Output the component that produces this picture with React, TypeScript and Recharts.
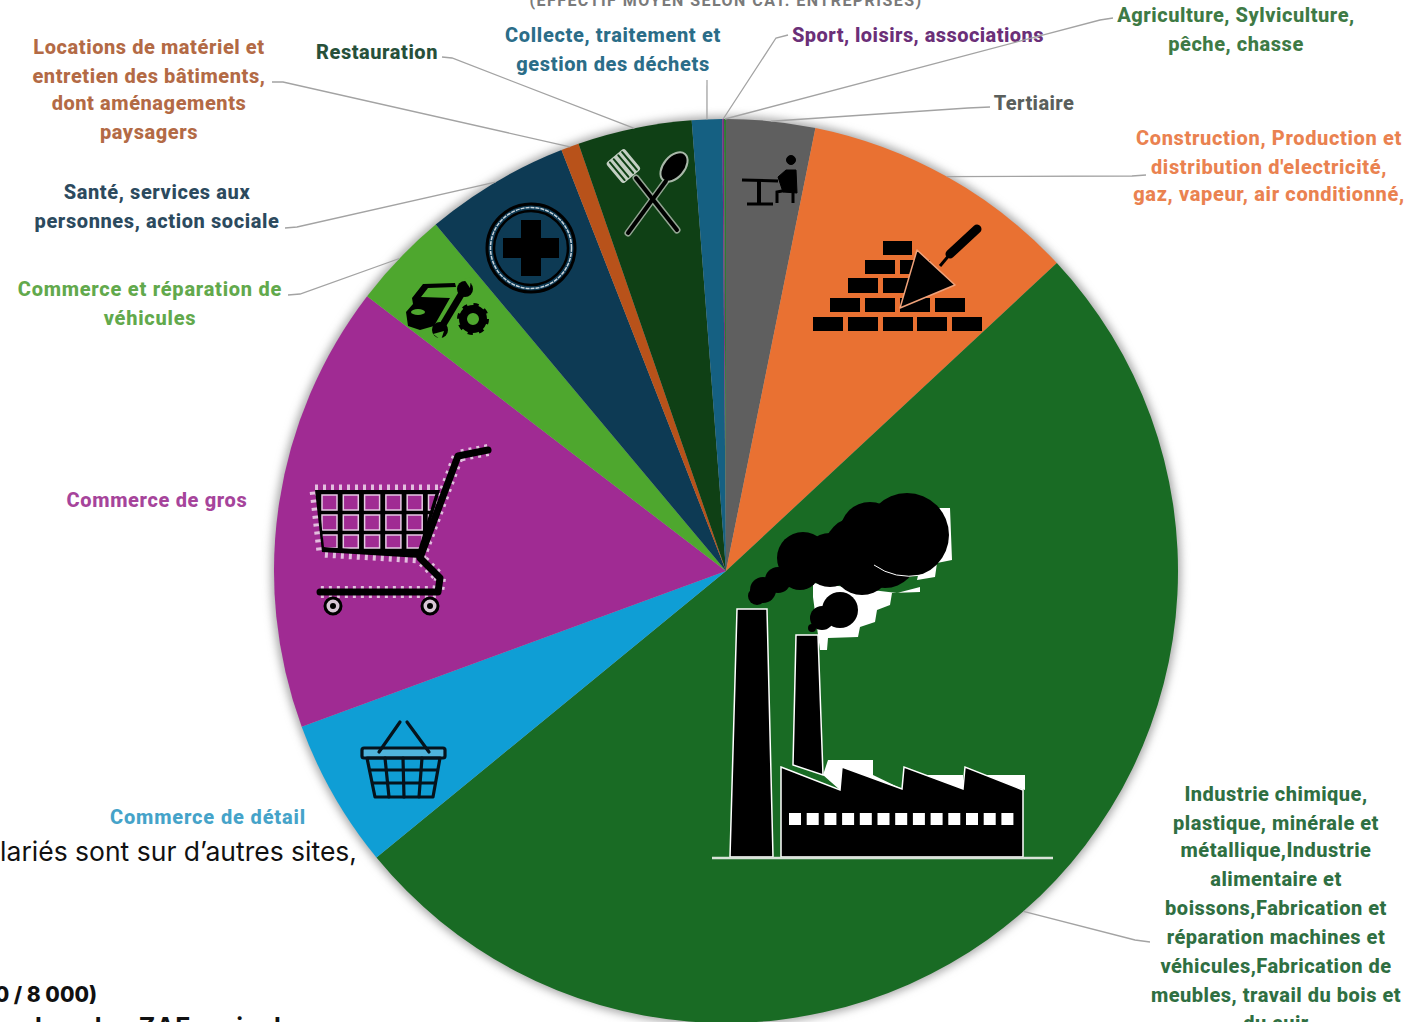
import { Pie, PieChart } from "recharts";

const sectors = [
  "Tertiaire",
  "Construction, Production et distribution d'electricité, gaz, vapeur, air conditionné,",
  "Industrie chimique, plastique, minérale et métallique,Industrie alimentaire et boissons,Fabrication et réparation machines et véhicules,Fabrication de meubles, travail du bois et du cuir",
  "Commerce de détail",
  "Commerce de gros",
  "Commerce et réparation de véhicules",
  "Santé, services aux personnes, action sociale",
  "Locations de matériel et entretien des bâtiments, dont aménagements paysagers",
  "Restauration",
  "Collecte, traitement et gestion des déchets",
  "Sport, loisirs, associations",
  "Agriculture, Sylviculture, pêche, chasse",
];
const shares = [3.17, 9.9, 51, 5.33, 16, 3.5, 5.17, 0.64, 4.08, 1.08, 0.06, 0.07];
const sliceColors = [
  "#5f5f5f", "#e97132", "#196b24", "#0f9ed5", "#a02b93", "#4ea72e",
  "#0d3a54", "#b8521a", "#0f4015", "#156082", "#7a2a80", "#2f7d32",
];
const textColors = [
  "#5a5f5c", "#ea8250", "#2f6f42", "#45a3c9", "#a6449b", "#62a94c",
  "#2c4a5e", "#b36a45", "#27503a", "#2b6d88", "#6b2f78", "#3e7a45",
];
const labelLines = [
  ["Tertiaire"],
  ["Construction, Production et", "distribution d'electricité,", "gaz, vapeur, air conditionné,"],
  ["Industrie chimique,", "plastique, minérale et", "métallique,Industrie", "alimentaire et", "boissons,Fabrication et", "réparation machines et", "véhicules,Fabrication de", "meubles, travail du bois et", "du cuir"],
  ["Commerce de détail"],
  ["Commerce de gros"],
  ["Commerce et réparation de", "véhicules"],
  ["Santé, services aux", "personnes, action sociale"],
  ["Locations de matériel et", "entretien des bâtiments,", "dont aménagements", "paysagers"],
  ["Restauration"],
  ["Collecte, traitement et", "gestion des déchets"],
  ["Sport, loisirs, associations"],
  ["Agriculture, Sylviculture,", "pêche, chasse"],
];

const tableData = sectors.map((name, i) => ({ name, value: shares[i], fill: sliceColors[i] }));
const outline = [{ name: "ombre", value: 100 }];

// label placement: centre x, y of each line, letter spacing
const labelBoxes = [
  { x: 1034, ys: [103], track: 0.4 },
  { x: 1269, ys: [138, 167, 194], track: 0.65 },
  { x: 1276, ys: [794, 823, 850, 879, 908, 937, 966, 995, 1023], track: 0.5 },
  { x: 208, ys: [817], track: 0.85 },
  { x: 157, ys: [500], track: 0.65 },
  { x: 150, ys: [289, 318], track: 0.75 },
  { x: 157, ys: [192, 221], track: 0.6 },
  { x: 149, ys: [47, 76, 103, 132], track: 0.57 },
  { x: 377, ys: [52], track: 0.55 },
  { x: 613, ys: [35, 64], track: 0.65 },
  { x: 918, ys: [35], track: 0.45 },
  { x: 1236, ys: [15, 44], track: 0.55 },
];
// leader line: points from the elbow out to the label end, null when there is none
const leaderEnds: (number[][] | null)[] = [
  [[968, 108], [990, 107]],
  [[1132, 176], [1146, 175]],
  [[1135, 940], [1150, 942]],
  null,
  null,
  [[300, 294], [288, 295]],
  [[297, 227], [285, 228]],
  [[283, 82], [272, 82]],
  [[452, 58], [442, 57]],
  [[707, 80]],
  [[776, 38], [788, 35]],
  [[1100, 20], [1113, 18]],
];

const RADIAN = Math.PI / 180;
const FONT = "Roboto, 'Noto Sans', sans-serif";

function SectorLabel(props: any) {
  const { cx, cy, midAngle, outerRadius, index } = props;
  const box = labelBoxes[index];
  const ends = leaderEnds[index];
  const sx = cx + outerRadius * Math.cos(-midAngle * RADIAN);
  const sy = cy + outerRadius * Math.sin(-midAngle * RADIAN);
  return (
    <g>
      {ends && (
        <polyline
          points={[[sx, sy], ...ends].map((p) => p.join(",")).join(" ")}
          fill="none"
          stroke="#a3a3a3"
          strokeWidth={1.3}
        />
      )}
      {labelLines[index].map((line, j) => (
        <text
          key={line}
          x={box.x}
          y={box.ys[j]}
          textAnchor="middle"
          dominantBaseline="central"
          fontFamily={FONT}
          fontWeight={800}
          fontSize={20}
          letterSpacing={box.track}
          fill={textColors[index]}
        >
          {line}
        </text>
      ))}
    </g>
  );
}

function Factory() {
  return (
    <g>
      <g fill="#fff">
        <polygon points="813,597 813,583 897,593 920,587 920,592 892,593 890,605 877,610 875,622 860,627 858,637 828,638 827,650 820,650 818,635" />
        <polygon points="933,508 950,508 952,560 937,563 935,577 917,580" />
        <polygon points="828,760 873,760 873,775 902,789 840,790 823,775" />
        <polygon points="913,775 963,775 963,789" />
        <polygon points="977,775 1025,775 1025,790" />
      </g>
      <g fill="#000" stroke="#fff" strokeWidth={1.5}>
        <polygon points="737,609 767,609 773,857 730,857" />
        <polygon points="796,635 818,635 823,775 793,765" />
        <polygon points="781,767 840,790 842,767 902,789 904,767 963,789 965,767 1023,790 1023,857 781,857" />
      </g>
      <g fill="#000">
        <circle cx={907} cy={535} r={42} />
        <circle cx={870} cy={532} r={30} />
        <circle cx={857} cy={550} r={33} />
        <circle cx={862} cy={565} r={30} />
        <circle cx={885} cy={555} r={33} />
        <circle cx={803} cy={558} r={26} />
        <circle cx={830} cy={560} r={27} />
        <circle cx={800} cy={570} r={20} />
        <circle cx={763} cy={590} r={13} />
        <circle cx={757} cy={596} r={9} />
        <circle cx={778} cy={580} r={13} />
        <circle cx={840} cy={610} r={18} />
        <circle cx={822} cy={618} r={12} />
        <circle cx={812} cy={628} r={4} />
      </g>
      <path d="M874 565 Q895 580 922 575" fill="none" stroke="#fff" strokeWidth={1} />
      {Array.from({ length: 13 }, (_, i) => (
        <rect key={i} x={789 + i * 17.7} y={813} width={12} height={12} fill="#fff" />
      ))}
      <line x1={712} y1={858} x2={1053} y2={858} stroke="#d9e3d9" strokeWidth={2.5} />
    </g>
  );
}

function Cart() {
  const cells: React.ReactElement[] = [];
  const rowY = [495, 515, 535];
  const rowH = [15, 15, 13];
  rowY.forEach((y, r) => {
    for (let c = 0; c < 6; c++) {
      cells.push(
        <rect key={`${r}-${c}`} x={322 + c * 21.3} y={y} width={15} height={rowH[r]} fill="#a02b93" stroke="#e6c9e3" strokeWidth={1.5} />,
      );
    }
  });
  return (
    <g>
      <polygon
        points="315,490 440,490 420,558 322,552"
        fill="none"
        stroke="#e3bfdf"
        strokeWidth={11}
        strokeDasharray="3 5"
      />
      <polyline points="488,450 458,456 420,558 440,578 438,592 320,592" fill="none" stroke="#e3bfdf" strokeWidth={12} strokeDasharray="3 5" />
      <clipPath id="cartBasket">
        <polygon points="318,492 436,492 417,554 324,547" />
      </clipPath>
      <polygon points="315,490 440,490 420,558 322,552" fill="#000" />
      <g clipPath="url(#cartBasket)">{cells}</g>
      <polyline points="488,450 458,456 420,558 440,578 438,592 320,592" fill="none" stroke="#000" strokeWidth={7} strokeLinecap="round" strokeLinejoin="round" />
      {[333, 430].map((x) => (
        <g key={x}>
          <circle cx={x} cy={606} r={8} fill="#d8c7d6" stroke="#000" strokeWidth={3} />
          <circle cx={x} cy={606} r={3} fill="#000" />
        </g>
      ))}
    </g>
  );
}

function Basket() {
  return (
    <g fill="none" stroke="#05131c" strokeWidth={3.2} strokeLinecap="round" strokeLinejoin="round">
      <rect x={362} y={748} width={83} height={10} rx={2} fill="#4fb4dc" />
      <line x1={379} y1={752} x2={400} y2={722} />
      <line x1={407} y1={722} x2={429} y2={752} />
      <polygon points="367,758 375,797 433,797 440,758" />
      <line x1={370} y1={770} x2={437} y2={770} />
      <line x1={373} y1={783} x2={435} y2={783} />
      <line x1={385} y1={758} x2={389} y2={797} />
      <line x1={403} y1={758} x2={404} y2={797} />
      <line x1={422} y1={758} x2={419} y2={797} />
    </g>
  );
}

function Garage() {
  return (
    <g>
      <path d="M412 298 L423 284 L455 283 L456 287 L428 288 L421 297 L450 298 L434 326 L420 330 L408 326 L406 312 L413 304 Z" fill="#000" />
      <ellipse cx={418} cy={312} rx={7} ry={3} fill="#4ea72e" />
      <line x1={465} y1={288} x2={441} y2={328} stroke="#4ea72e" strokeWidth={9} />
      <line x1={465} y1={288} x2={441} y2={328} stroke="#000" strokeWidth={7} />
      <circle cx={465} cy={289} r={8} fill="#000" />
      <circle cx={440} cy={330} r={8} fill="#000" />
      <polygon points="464,279 471,277 470,288" fill="#4ea72e" />
      <polygon points="433,334 441,340 444,331" fill="#4ea72e" />
      <circle cx={473} cy={319} r={10} fill="none" stroke="#000" strokeWidth={8} />
      <circle cx={473} cy={319} r={14} fill="none" stroke="#000" strokeWidth={4} strokeDasharray="5 6" />
    </g>
  );
}

function Medical() {
  return (
    <g fill="none">
      <circle cx={531} cy={248} r={44} stroke="#000" strokeWidth={3} />
      <circle cx={531} cy={248} r={40.5} stroke="#c9d3da" strokeWidth={1.5} strokeDasharray="4 1" />
      <circle cx={531} cy={248} r={37} stroke="#000" strokeWidth={2.5} />
      <path d="M521 220 H541 V238 H559 V258 H541 V276 H521 V258 H503 V238 H521 Z" fill="#000" />
    </g>
  );
}

function Cutlery() {
  return (
    <g strokeLinecap="round">
      <g stroke="#93a593" fill="none" strokeWidth={7}>
        <line x1={628} y1={233} x2={666} y2={181} />
        <line x1={677} y1={230} x2={636} y2={178} />
      </g>
      <g transform="rotate(-40 625 168)">
        <rect x={613} y={152} width={24} height={27} rx={3} fill="#c3cfc3" />
        {[617, 622, 628, 633].map((x) => (
          <line key={x} x1={x} y1={154} x2={x} y2={177} stroke="#0f4015" strokeWidth={2} />
        ))}
      </g>
      <ellipse cx={674} cy={167} rx={10.5} ry={17} transform="rotate(40 674 167)" fill="#000" stroke="#a9b8a9" strokeWidth={2} />
      <line x1={628} y1={233} x2={666} y2={181} stroke="#000" strokeWidth={4} />
      <line x1={677} y1={230} x2={636} y2={178} stroke="#000" strokeWidth={4} />
    </g>
  );
}

function Desk() {
  return (
    <g fill="#000" stroke="#000">
      <line x1={742} y1={180} x2={778} y2={181} strokeWidth={3} />
      <line x1={759} y1={181} x2={759} y2={203} strokeWidth={4} />
      <line x1={747} y1={204} x2={773} y2={204} strokeWidth={3} />
      <circle cx={791} cy={160} r={4.5} />
      <path d="M778 177 L786 170 L796 170 L797 193 L783 192 Z" />
      <polyline points="787,190 777,192 777,203" fill="none" strokeWidth={3} />
      <line x1={793} y1={190} x2={793} y2={203} strokeWidth={3} />
    </g>
  );
}

function Bricks() {
  const rows = [
    { y: 317, h: 14, xs: [813, 848, 883, 917, 952], w: 30 },
    { y: 298, h: 14, xs: [830, 865, 900, 935], w: 30 },
    { y: 278, h: 15, xs: [848, 883], w: 30 },
    { y: 260, h: 14, xs: [865, 900], w: 30 },
    { y: 241, h: 14, xs: [883], w: 29 },
  ];
  return (
    <g>
      {rows.flatMap((row) =>
        row.xs.map((x) => <rect key={`${row.y}-${x}`} x={x} y={row.y} width={row.w} height={row.h} fill="#000" />),
      )}
      <polygon points="917,250 955,285 900,308" fill="#000" stroke="#efa27a" strokeWidth={1.5} strokeLinejoin="round" />
      <line x1={940} y1={266} x2={951} y2={253} stroke="#000" strokeWidth={3} />
      <line x1={950} y1={254} x2={977} y2={229} stroke="#000" strokeWidth={9} strokeLinecap="round" />
    </g>
  );
}

export default function App() {
  return (
    <div style={{ position: "absolute", left: 0, top: 0, width: 1408, height: 1022, overflow: "hidden", background: "#fff" }}>
      <PieChart width={1408} height={1022} margin={{ top: 0, right: 0, bottom: 0, left: 0 }}>
        <defs>
          <filter id="pieGlow" x="-10%" y="-10%" width="120%" height="120%">
            <feGaussianBlur stdDeviation="4" />
          </filter>
        </defs>
        <text x={726} y={6} textAnchor="middle" fontFamily={FONT} fontWeight={700} fontSize={16} letterSpacing={1.45} fill="#7a7a7a">
          (EFFECTIF MOYEN SELON CAT. ENTREPRISES)
        </text>
        <text x={357} y={861} textAnchor="end" fontFamily="Inter, sans-serif" fontSize={26.5} fill="#111">
          Les salariés sont sur d’autres sites,
        </text>
        <text x={97} y={1002} textAnchor="end" fontFamily="Inter, sans-serif" fontWeight={800} fontSize={21} fill="#111">
          6 000 / 8 000)
        </text>
        <text x={26} y={1036} fontFamily="Inter, sans-serif" fontWeight={700} fontSize={25} letterSpacing={0.6} fill="#111">
          dans les ZAE ou isoles
        </text>
        <Pie
          data={outline}
          dataKey="value"
          cx={726}
          cy={571}
          outerRadius={455}
          fill="#aaaaaa"
          stroke="none"
          filter="url(#pieGlow)"
          isAnimationActive={false}
        />
        <Pie
          data={tableData}
          dataKey="value"
          nameKey="name"
          cx={726}
          cy={571}
          outerRadius={452}
          startAngle={90}
          endAngle={-270}
          stroke="none"
          label={SectorLabel}
          labelLine={false}
          isAnimationActive={false}
        />
      </PieChart>
      {/* sector pictograms sit above the pie, in the same pixel frame */}
      <svg width={1408} height={1022} style={{ position: "absolute", left: 0, top: 0, pointerEvents: "none" }}>
        <Factory />
        <Cart />
        <Basket />
        <Garage />
        <Medical />
        <Cutlery />
        <Desk />
        <Bricks />
      </svg>
    </div>
  );
}
